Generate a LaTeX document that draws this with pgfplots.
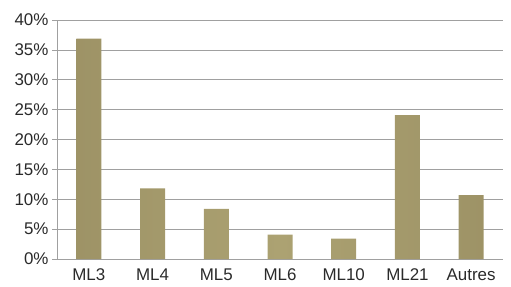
\documentclass[border=0pt]{standalone}
\usepackage{pgfplots}
\pgfplotsset{compat=1.18}
\usepackage{fontspec}
\setmainfont{Liberation Sans}
\definecolor{gridc}{HTML}{A0A0A0}
\definecolor{txt}{HTML}{2A2A2A}
\pgfdeclarehorizontalshading{barshade}{100bp}{
  color(0bp)=({rgb,255:red,112;green,102;blue,66});
  color(12bp)=({rgb,255:red,150;green,139;blue,96});
  color(50bp)=({rgb,255:red,172;green,162;blue,114});
  color(88bp)=({rgb,255:red,150;green,139;blue,96});
  color(100bp)=({rgb,255:red,106;green,97;blue,63})
}
\begin{document}
\begin{tikzpicture}[x=1bp,y=1bp]
\path[use as bounding box] (0,0) rectangle (511,286);
\begin{axis}[
  at={(57bp,27bp)}, anchor=south west,
  scale only axis, width=446bp, height=239bp,
  xmin=-0.5, xmax=6.5, ymin=0, ymax=40,
  xtick={0,...,6},
  xticklabels={ML3,ML4,ML5,ML6,ML10,ML21,Autres},
  extra x ticks={0.5,1.5,2.5,3.5,4.5,5.5,6.5},
  extra x tick labels={},
  extra x tick style={major tick length=4bp, tick style={gridc, line width=0.6pt}, tick pos=bottom, tick align=outside, grid=none},
  ytick={0,5,...,40},
  yticklabel={\pgfmathprintnumber{\tick}\%},
  /pgf/number format/assume math mode=true,
  ymajorgrids, grid style={gridc, line width=0.6pt},
  axis x line*=bottom, axis y line*=left,
  axis line style={gridc, line width=0.6pt},
  x axis line style={-}, y axis line style={-},
  major x tick style={draw=none},
  major y tick style={gridc, line width=0.6pt},
  tick align=outside, major tick length=5bp,
  ticklabel style={font=\fontsize{17}{17}\selectfont, text=txt},
  xticklabel style={yshift=-1bp},
  clip=false,
]
\addplot[ybar, bar width=25bp, draw=none, shading=barshade]
  coordinates {(0,36.9) (1,11.8) (2,8.4) (3,4.1) (4,3.4) (5,24.1) (6,10.7)};
\end{axis}
\end{tikzpicture}
\end{document}
